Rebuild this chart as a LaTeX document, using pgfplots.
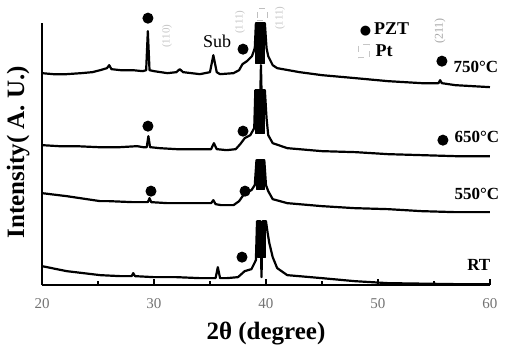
\documentclass[border=0pt]{standalone}
\usepackage{fontspec}
\setmainfont{Liberation Serif}
\newfontfamily\dejavu{DejaVu Sans}
\usepackage{pgfplots}
\pgfplotsset{compat=1.18}
\begin{document}
\begin{tikzpicture}
\begin{axis}[
 scale only axis, width=224pt, height=131pt,
 xmin=20, xmax=60, ymin=0, ymax=262,
 axis lines=left, axis line style={-, line width=0.8pt},
 xtick={20,30,40,50,60}, minor xtick={25,35,45,55},
 ytick=\empty,
 tick align=inside, major tick length=3pt, minor tick length=2pt,
 tick style={line width=0.8pt, black},
 xticklabel style={text=black!55, font=\fontsize{7.5}{9}\selectfont, yshift=-3pt},
 /pgf/number format/assume math mode=true,
 clip=false,
 every axis plot/.append style={line width=1.1pt, black, line join=round},
]
% 750 C
\addplot[no marks] coordinates {
(20.0,212) (21.0,211) (22.2,211) (23.5,212) (24.5,213) (25.2,215) (25.8,217) (26.0,220) (26.2,216)
(27.0,215) (28.1,215) (29.0,214) (29.3,215) (29.45,254) (29.6,215) (30.0,214) (31.2,212) (32.0,213)
(32.3,216) (32.6,213) (34.1,211) (35.0,213) (35.3,230) (35.6,213) (35.9,211) (37.1,212) (37.6,215)
(37.9,221) (38.3,224) (38.75,229) (39.0,237)
(39.1,262) (39.9,262)
(40.05,237) (40.2,229) (40.6,220) (41.0,217) (42.0,215) (43.0,213) (45.0,210) (48.0,207) (50.9,204)
(53.9,202) (55.4,202) (55.55,205) (55.7,202) (56.9,200) (60.0,198)
};
\addplot[fill=black, draw=black, line width=0.5pt] coordinates {(39.1,262) (39.9,262) (39.9,222) (39.1,222)} --cycle;
% 650 C
\addplot[no marks] coordinates {
(20.0,140) (21.5,139) (23.0,139) (25.0,138) (27.0,138) (28.5,139) (29.0,138) (29.35,138) (29.5,149)
(29.65,138) (30.5,137) (32.0,136) (34.0,136) (35.1,136) (35.35,142) (35.6,136) (36.5,135) (37.3,136)
(37.7,141) (38.1,147) (38.6,150) (38.95,157)
(39.05,195) (39.5,195) (39.55,220) (39.6,195) (39.9,195)
(40.05,167) (40.2,150) (40.6,142) (41.9,137) (45.0,134) (48.0,133) (50.9,131) (53.9,130) (56.9,129) (60.0,129)
};
\addplot[fill=black, draw=black, line width=0.5pt] coordinates {(39.05,195) (39.9,195) (39.9,152) (39.05,152)} --cycle;
% 550 C
\addplot[no marks] coordinates {
(20.0,92) (22.2,89) (25.2,84) (26.0,84) (28.1,83) (29.0,83) (29.45,83) (29.6,87) (29.75,83) (31.2,82)
(34.1,82) (35.1,82) (35.3,85) (35.5,81) (36.0,80) (37.1,80) (37.6,84) (38.1,92) (38.7,95) (39.0,100)
(39.15,125) (39.85,125)
(40.0,100) (40.2,94) (40.6,86) (41.9,82) (45.0,79) (47.9,77) (50.9,76) (53.9,74) (56.9,73) (60.0,73)
};
\addplot[fill=black, draw=black, line width=0.5pt] coordinates {(39.15,125) (39.85,125) (39.85,96) (39.15,96)} --cycle;
% RT
\addplot[no marks] coordinates {
(20.0,19) (22.2,14) (25.2,10) (27.0,9) (28.0,9) (28.15,12) (28.3,9) (30.0,8) (32.0,8) (34.1,7)
(35.5,7) (35.7,18) (35.9,7) (36.5,7) (37.5,8) (38.1,14) (38.7,16) (39.1,25)
(39.2,64) (39.5,64) (39.6,8) (39.7,64) (40.0,64)
(40.15,52) (40.3,42) (40.6,28) (41.0,17) (41.9,10) (45.0,7) (47.9,4) (50.9,2) (53.9,1.5) (57.0,1) (60.0,1)
};
\addplot[fill=black, draw=black, line width=0.5pt] coordinates {(39.2,64) (40.0,64) (40.0,28) (39.2,28)} --cycle;
% PZT markers
\addplot[only marks, mark=*, mark size=2.5pt, line width=0.5pt] coordinates {
(29.46,267) (37.95,236) (55.71,224) (29.46,159) (37.95,154) (55.80,145) (29.73,94) (38.13,94) (37.86,28)
};
% labels
\node[font=\bfseries\fontsize{8.5}{10}\selectfont] at (axis cs:58.75,218) {750°C};
\node[font=\bfseries\fontsize{8.5}{10}\selectfont] at (axis cs:58.84,148) {650°C};
\node[font=\bfseries\fontsize{8.5}{10}\selectfont] at (axis cs:58.84,91) {550°C};
\node[font=\bfseries\fontsize{8.5}{10}\selectfont] at (axis cs:59.0,20) {RT};
\node[font=\fontsize{9}{10}\selectfont] at (axis cs:35.63,244) {Sub};
\node[anchor=west, inner sep=0pt, font=\bfseries\fontsize{9}{10}\selectfont] at (axis cs:48.35,256) {{\dejavu\fontsize{6.5}{8}\selectfont ●}\,PZT};
\node[draw=gray!45, dashed, minimum width=5.5pt, minimum height=6.5pt, inner sep=0pt] at (axis cs:48.75,234) {};
\node[anchor=west, inner sep=0pt, font=\bfseries\fontsize{9}{10}\selectfont] at (axis cs:49.75,234) {Pt};
\node[rotate=90, text=gray!70, font=\fontsize{6}{7}\selectfont] at (axis cs:55.54,254) {(211)};
\node[rotate=90, text=gray!45, font=\fontsize{5.5}{6}\selectfont] at (axis cs:31.16,249) {(110)};
\node[rotate=90, text=gray!45, font=\fontsize{5.5}{6}\selectfont] at (axis cs:37.68,263) {(111)};
\node[draw=gray!50, dashed, minimum width=5pt, minimum height=6pt, inner sep=0pt] at (axis cs:39.64,271) {};
\node[rotate=90, text=gray!45, font=\fontsize{5.5}{6}\selectfont] at (axis cs:41.25,267) {(111)};
\node[rotate=90, font=\bfseries\fontsize{12.5}{14}\selectfont] at (axis cs:17.86,133) {Intensity( A. U.)};
\node[font=\bfseries\fontsize{12.5}{14}\selectfont] at (axis cs:40.0,-48) {2θ (degree)};
\path (axis cs:16.25,-63) rectangle (axis cs:61.79,277);
\end{axis}
\end{tikzpicture}
\end{document}
